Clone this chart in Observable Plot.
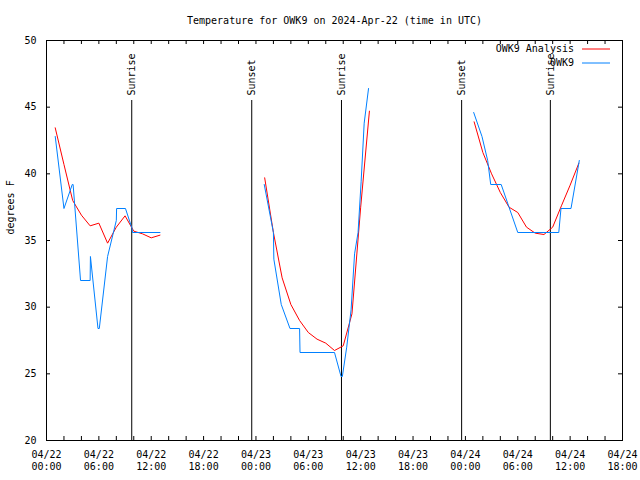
<!DOCTYPE html>
<html><head><meta charset="utf-8">
<script src="https://cdn.jsdelivr.net/npm/d3@7"></script>
<script src="https://cdn.jsdelivr.net/npm/@observablehq/plot@0.6"></script>
<style>body{margin:0;background:#fff} svg{display:block}</style>
</head><body><div id="chart"></div>
<script>
// ---- data ----
const analysisSeg = [1,1,1,1,1,1,1,1,1,1,1,1,1, 2,2,2,2,2,2,2,2,2,2,2,2,2, 3,3,3,3,3,3,3,3,3,3,3,3,3];
const analysisTime = [
  "2024-04-22T01:00Z","2024-04-22T02:00Z","2024-04-22T03:00Z","2024-04-22T04:00Z","2024-04-22T05:00Z","2024-04-22T06:00Z","2024-04-22T07:00Z","2024-04-22T08:00Z","2024-04-22T09:00Z","2024-04-22T10:00Z","2024-04-22T11:00Z","2024-04-22T12:00Z","2024-04-22T13:00Z",
  "2024-04-23T01:00Z","2024-04-23T02:00Z","2024-04-23T03:00Z","2024-04-23T04:00Z","2024-04-23T05:00Z","2024-04-23T06:00Z","2024-04-23T07:00Z","2024-04-23T08:00Z","2024-04-23T09:00Z","2024-04-23T10:00Z","2024-04-23T11:00Z","2024-04-23T12:00Z","2024-04-23T13:00Z",
  "2024-04-24T01:00Z","2024-04-24T02:00Z","2024-04-24T03:00Z","2024-04-24T04:00Z","2024-04-24T05:00Z","2024-04-24T06:00Z","2024-04-24T07:00Z","2024-04-24T08:00Z","2024-04-24T09:00Z","2024-04-24T10:00Z","2024-04-24T11:00Z","2024-04-24T12:00Z","2024-04-24T13:00Z"
];
const analysisTemp = [
  43.45,40.7,38.0,36.9,36.1,36.3,34.8,36.0,36.85,35.7,35.5,35.2,35.4,
  39.7,35.6,32.2,30.2,29.0,28.1,27.6,27.3,26.75,27.1,29.5,37.5,44.7,
  43.9,41.6,40.0,38.6,37.5,37.1,36.0,35.55,35.45,36.0,37.6,39.15,40.8
];

const obsSeg = [1,1,1,1,1,1,1,1,1,1,1,1,1,1,1,1, 2,2,2,2,2,2,2,2,2,2,2,2,2,2,2,2,2, 3,3,3,3,3,3,3,3,3,3];
const obsTime = [
  "2024-04-22T01:00Z","2024-04-22T02:00Z","2024-04-22T02:57Z","2024-04-22T03:03Z","2024-04-22T03:54Z","2024-04-22T05:00Z","2024-04-22T05:02Z","2024-04-22T05:54Z","2024-04-22T06:03Z","2024-04-22T07:00Z","2024-04-22T08:00Z","2024-04-22T08:02Z","2024-04-22T09:03Z","2024-04-22T09:48Z","2024-04-22T09:51Z","2024-04-22T13:00Z",
  "2024-04-23T00:57Z","2024-04-23T02:00Z","2024-04-23T02:03Z","2024-04-23T02:54Z","2024-04-23T03:54Z","2024-04-23T05:00Z","2024-04-23T05:03Z","2024-04-23T09:00Z","2024-04-23T09:45Z","2024-04-23T09:54Z","2024-04-23T10:24Z","2024-04-23T10:54Z","2024-04-23T11:18Z","2024-04-23T11:42Z","2024-04-23T12:03Z","2024-04-23T12:24Z","2024-04-23T12:54Z",
  "2024-04-24T00:57Z","2024-04-24T01:54Z","2024-04-24T02:33Z","2024-04-24T02:54Z","2024-04-24T04:06Z","2024-04-24T06:00Z","2024-04-24T10:42Z","2024-04-24T10:57Z","2024-04-24T12:06Z","2024-04-24T13:03Z"
];
const obsTemp = [
  42.8,37.4,39.2,39.2,32.0,32.0,33.8,28.4,28.4,33.8,36.5,37.4,37.4,35.9,35.6,35.6,
  39.2,35.6,33.6,30.2,28.4,28.4,26.6,26.6,24.8,24.8,27.0,29.8,34.0,35.6,39.4,43.8,46.4,
  44.6,42.8,41.0,39.2,39.2,35.6,35.6,37.4,37.4,41.0
];

const sunLabel = ["Sunrise","Sunset","Sunrise","Sunset","Sunrise"];
const sunTime = ["2024-04-22T09:46Z","2024-04-22T23:31Z","2024-04-23T09:48Z","2024-04-23T23:34Z","2024-04-24T09:44Z"];

const seriesNames = ["OWK9 Analysis","OWK9"];
const seriesColors = ["#ff0000","#0080ff"];
const yTicks = [20,25,30,35,40,45,50];
const xDomain = ["2024-04-22T00:00Z","2024-04-24T18:00Z"];
const titleText = "Temperature for OWK9 on 2024-Apr-22 (time in UTC)";
const yLabel = "degrees F";

// ---- build tables ----
const analysis = analysisTime.map((t,i)=>({time:new Date(t), temp:analysisTemp[i], seg:analysisSeg[i]}));
const obs = obsTime.map((t,i)=>({time:new Date(t), temp:obsTemp[i], seg:obsSeg[i]}));
const sun = sunTime.map((t,i)=>({time:new Date(t), label:sunLabel[i]}));

const W=640,H=480,mL=46,mR=18,mT=40,mB=40;
const pW=W-mL-mR, pH=H-mT-mB;
const font="'DejaVu Sans Mono', monospace";
const d0=new Date(xDomain[0]), d1=new Date(xDomain[1]);
const majorTicks=d3.utcHour.every(6).range(d0,new Date(+d1+1));
const minorTicks=d3.utcHour.every(2).range(d0,new Date(+d1+1));
const fmt=d=>d3.utcFormat("%m/%d")(d)+"\n"+d3.utcFormat("%H:%M")(d);

const plot = Plot.plot({
  width:W, height:H, marginLeft:mL, marginRight:mR, marginTop:mT, marginBottom:mB,
  style:{fontFamily:font, fontSize:"10px", background:"white", color:"black", overflow:"visible"},
  x:{type:"utc", domain:[d0,d1]},
  y:{domain:[20,50]},
  marks:[
    Plot.axisX({ticks:majorTicks, tickSize:0, tickPadding:9, tickFormat:fmt, lineHeight:1.2, label:null, fontSize:10}),
    Plot.axisY({ticks:yTicks, tickSize:0, tickPadding:10, label:null, fontSize:10}),
    Plot.tickX(minorTicks,{x:d=>d, insetTop:pH-4, stroke:"black"}),
    Plot.tickX(minorTicks,{x:d=>d, insetBottom:pH-4, stroke:"black"}),
    Plot.tickY(yTicks,{y:d=>d, insetRight:pW-4, stroke:"black"}),
    Plot.tickY(yTicks,{y:d=>d, insetLeft:pW-4, stroke:"black"}),
    Plot.ruleX(sun,{x:"time", insetTop:60, stroke:"black", strokeWidth:1}),
    Plot.text(sun,{x:"time", frameAnchor:"top", dy:55, text:"label", rotate:-90, textAnchor:"start", lineAnchor:"middle", fontSize:10}),
    Plot.line(analysis,{x:"time", y:"temp", z:"seg", stroke:seriesColors[0], strokeWidth:1}),
    Plot.line(obs,{x:"time", y:"temp", z:"seg", stroke:seriesColors[1], strokeWidth:1}),
    Plot.frame({stroke:"black"}),
    Plot.text([titleText],{frameAnchor:"top", dy:-20, lineAnchor:"middle", fontSize:10}),
    Plot.text([yLabel],{frameAnchor:"left", dx:-36, dy:-6, rotate:-90, lineAnchor:"middle", fontSize:10})
  ]
});

// legend (top-right inside frame)
const svg=d3.select(plot);
const lg=svg.append("g").attr("font-family",font).attr("font-size",10);
seriesNames.forEach((name,i)=>{
  const y=mT+9+i*14;
  lg.append("text").attr("x",W-mR-48).attr("y",y).attr("dy","0.32em").attr("text-anchor","end").attr("fill","black").text(name);
  lg.append("line").attr("x1",W-mR-40).attr("x2",W-mR-12).attr("y1",y).attr("y2",y).attr("stroke",seriesColors[i]).attr("stroke-width",1);
});
document.getElementById("chart").appendChild(plot);
</script>
</body></html>
